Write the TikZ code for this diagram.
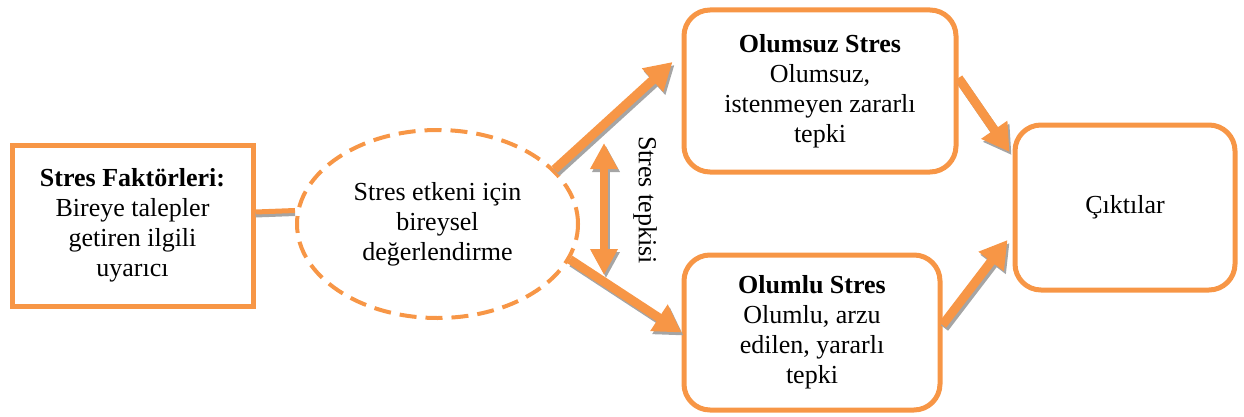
\documentclass[tikz,border=0pt]{standalone}
\usepackage{fontspec}
\setmainfont{Liberation Serif}
\usetikzlibrary{positioning}
\usetikzlibrary{arrows.meta,shapes.geometric}
\usetikzlibrary{calc}
\definecolor{stresorange}{HTML}{F79646}
\definecolor{shadowgray}{HTML}{A5A5A5}

\begin{document}
\begin{tikzpicture}[x=1pt,y=1pt,every node/.style={align=center,inner sep=2pt,font=\fontsize{26}{30}\selectfont},
	kutu/.style={draw=stresorange,line width=5pt},
	yuvarlak/.style={kutu,rounded corners=26pt},
	degerlendirme/.style={ellipse,draw=stresorange,line width=4pt,dash pattern=on 17pt off 9pt},
	akis/.style={stresorange,line width=9pt,-{Triangle[length=27pt,width=30pt]}},
	akisgolge/.style={akis,shadowgray,transform canvas={shift={(2pt,-3pt)}}},
	ciftakis/.style={stresorange,line width=8pt,{Triangle[length=26pt,width=26pt]}-{Triangle[length=26pt,width=26pt]}}]
	\useasboundingbox (0,0) rectangle (1244,416);
	\node[kutu,minimum width=241pt,minimum height=161pt] (faktor) at (132.5,190.5) {\textbf{Stres Faktörleri:}\\Bireye talepler\\getiren ilgili\\uyarıcı};
	\node[degerlendirme,minimum width=281pt,minimum height=188pt] (eval) at (437.5,192) {Stres etkeni için\\bireysel\\değerlendirme};
	\node[yuvarlak,minimum width=272pt,minimum height=162pt] (olumsuz) at (820,325) {\textbf{Olumsuz Stres}\\Olumsuz,\\istenmeyen zararlı\\tepki};
	\node[yuvarlak,minimum width=256pt,minimum height=155pt] (olumlu) at (812,83.5) {\textbf{Olumlu Stres}\\Olumlu, arzu\\edilen, yararlı\\tepki};
	\node[yuvarlak,minimum width=220pt,minimum height=165pt] (cikti) at (1125,208.5) {Çıktılar};
	\node[rotate=-90] (tepkiyazi) at (645,216) {Stres tepkisi};
	\coordinate (tepkiust) at (604,273);
	\coordinate (tepkialt) at (604,141);
	% faktor -> degerlendirme
	\draw[shadowgray,line width=5pt] ([yshift=10.5pt]faktor.east) -- ([yshift=10.5pt]eval.west);
	\draw[stresorange,line width=5pt] ([yshift=13.5pt]faktor.east) -- ([yshift=13.5pt]eval.west);
	% golgeler
	\draw[akisgolge] (eval.25) -- ([shift={(-9pt,29pt)}]olumsuz.west);
	\draw[akisgolge] (eval.-15) -- (olumlu.west);
	\draw[akisgolge] ([yshift=13pt]olumsuz.east) -- ([shift={(-3pt,55.5pt)}]cikti.west);
	\draw[akisgolge] ([yshift=7.5pt]olumlu.east) -- ([shift={(-5pt,-32.5pt)}]cikti.west);
	\draw[ciftakis,shadowgray,transform canvas={shift={(2pt,-3pt)}}] (tepkiust) -- (tepkialt);
	% oklar
	\draw[akis] (eval.25) -- ([shift={(-9pt,29pt)}]olumsuz.west);
	\draw[akis] (eval.-15) -- (olumlu.west);
	\draw[akis] ([yshift=13pt]olumsuz.east) -- ([shift={(-3pt,55.5pt)}]cikti.west);
	\draw[akis] ([yshift=7.5pt]olumlu.east) -- ([shift={(-5pt,-32.5pt)}]cikti.west);
	\draw[ciftakis] (tepkiust) -- (tepkialt);
\end{tikzpicture}
\end{document}
